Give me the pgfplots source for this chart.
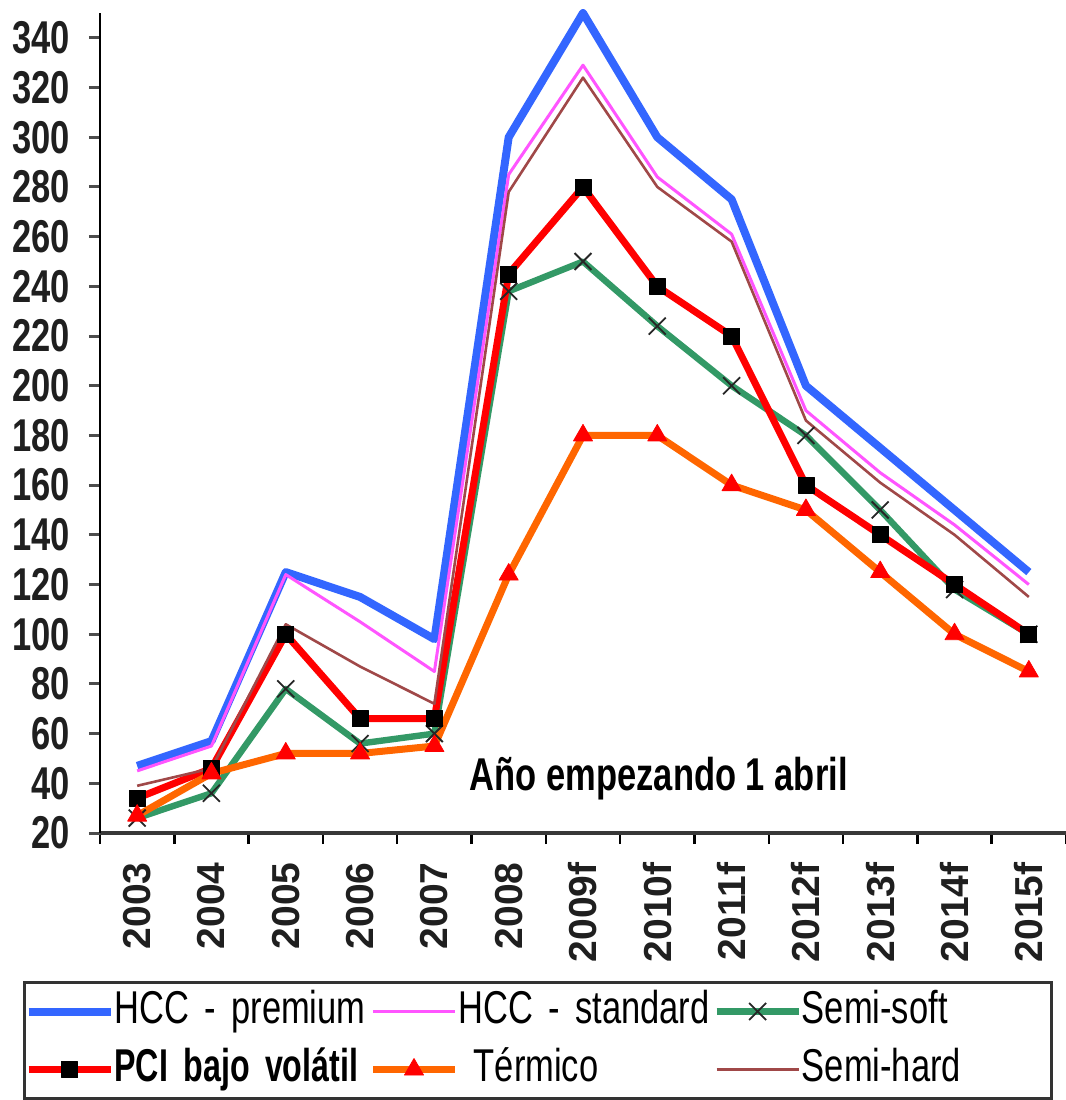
\documentclass[border=0pt]{standalone}
\usepackage{fontspec}
\setmainfont{Liberation Sans}
\newfontfamily\condfont{Liberation Sans}[FakeStretch=0.75]
\newfontfamily\narrowfont{Liberation Sans}[FakeStretch=0.7]
\usepackage{pgfplots}
\pgfplotsset{compat=1.18}

\definecolor{cPrem}{HTML}{3366FF}
\definecolor{cStd}{HTML}{FF55FF}
\definecolor{cSoft}{HTML}{339966}
\definecolor{cPCI}{HTML}{FF0000}
\definecolor{cTerm}{HTML}{FF6600}
\definecolor{cHard}{HTML}{A04848}

\begin{document}
\begin{tikzpicture}
\useasboundingbox (-50pt,-133.5pt) rectangle (483pt,416.5pt);
\begin{axis}[
  at={(0pt,0pt)}, anchor=south west,
  scale only axis, width=483pt, height=410pt,
  xmin=-0.5, xmax=12.5, ymin=20, ymax=350,
  axis x line=bottom, axis y line=left,
  axis line style={-},
  x axis line style={draw=black!78, line width=2pt},
  y axis line style={draw=black, line width=1.3pt},
  xtick={0,...,12},
  xticklabels={2003,2004,2005,2006,2007,2008,2009f,2010f,2011f,2012f,2013f,2014f,2015f},
  minor xtick={-0.5,0.5,...,12.5},
  ytick={20,40,...,340},
  tick align=outside,
  major tick length=5.5pt,
  minor tick length=5.5pt,
  major x tick style={draw=none},
  minor x tick style={draw=black, line width=1.2pt},
  major y tick style={draw=black!70, line width=1.5pt},
  /pgf/number format/assume math mode=true,
  yticklabel style={font=\condfont\bfseries\fontsize{23}{23}\selectfont, text=black!88,
    anchor=east, inner sep=0pt, xshift=-9.5pt},
  xticklabel style={font=\bfseries\fontsize{19.5}{19.5}\selectfont, text=black!88,
    yshift=-9pt, rotate=90, anchor=east, inner sep=0pt},
  clip=false,
  legend columns=3,
  legend cell align=left,
  legend image code/.code={\draw[mark repeat=2,mark phase=2,#1]
    plot coordinates {(0pt,0pt) (20.5pt,0pt) (41pt,0pt)};},
  legend style={
    at={(-0.0797,-0.1805)}, anchor=north west,
    draw=black!80, line width=1.5pt,
    inner xsep=0pt, inner ysep=3.5pt,
    font=\condfont\fontsize{23}{23}\selectfont,
    nodes={text width=126pt, align=left, inner sep=0pt, text height=17pt, text depth=5pt},
    row sep=7pt,
    /tikz/every even column/.append style={column sep=1.5pt},
    /tikz/every odd column/.append style={column sep=0pt},
    /tikz/column 6/.append style={nodes={text width=125pt}},
  },
  every axis plot/.append style={line join=round},
]

% HCC - premium
\addplot[color=cPrem, line width=4pt] coordinates {
  (0,47) (1,57) (2,125) (3,115) (4,98) (5,300) (6,350)
  (7,300) (8,275) (9,200) (10,175) (11,150) (12,125)};
\addlegendentry{\mbox{HCC - premium}}

% HCC - standard
\addplot[color=cStd, line width=1.5pt] coordinates {
  (0,45) (1,55) (2,124) (3,105) (4,85) (5,285) (6,329)
  (7,284) (8,261) (9,190) (10,165) (11,144) (12,120)};
\addlegendentry{\mbox{HCC - standard}}

% Semi-soft
\addplot[color=cSoft, line width=3.2pt, mark=x, mark size=6pt,
  mark options={draw=black!85, line width=0.9pt}] coordinates {
  (0,26) (1,36) (2,78) (3,56) (4,60) (5,238) (6,250)
  (7,224) (8,200) (9,180) (10,150) (11,118) (12,100)};
\addlegendentry{\mbox{Semi-soft}}

% PCI bajo volatil
\addplot[color=cPCI, line width=3.5pt, mark=square*, mark size=4pt,
  mark options={draw=black, fill=black, line width=0.4pt}] coordinates {
  (0,34) (1,46) (2,100) (3,66) (4,66) (5,245) (6,280)
  (7,240) (8,220) (9,160) (10,140) (11,120) (12,100)};
\addlegendentry{\mbox{\narrowfont\bfseries PCI bajo volátil}}

% Termico
\addplot[color=cTerm, line width=3.5pt, mark=triangle*, mark size=5.5pt,
  mark options={draw=cPCI, fill=cPCI, line width=0.4pt}] coordinates {
  (0,27) (1,44) (2,52) (3,52) (4,55) (5,124) (6,180)
  (7,180) (8,160) (9,150) (10,125) (11,100) (12,85)};
\addlegendentry{\mbox{\ Térmico}}

% Semi-hard
\addplot[color=cHard, line width=1.3pt] coordinates {
  (0,39) (1,46) (2,104) (3,87) (4,72) (5,278) (6,324)
  (7,280) (8,258) (9,186) (10,161) (11,140) (12,115)};
\addlegendentry{\mbox{Semi-hard}}

\node[font=\condfont\bfseries\fontsize{23}{23}\selectfont, anchor=base]
  at (axis cs:7.02,37.3) {Año empezando 1 abril};
\end{axis}
\end{tikzpicture}
\end{document}
